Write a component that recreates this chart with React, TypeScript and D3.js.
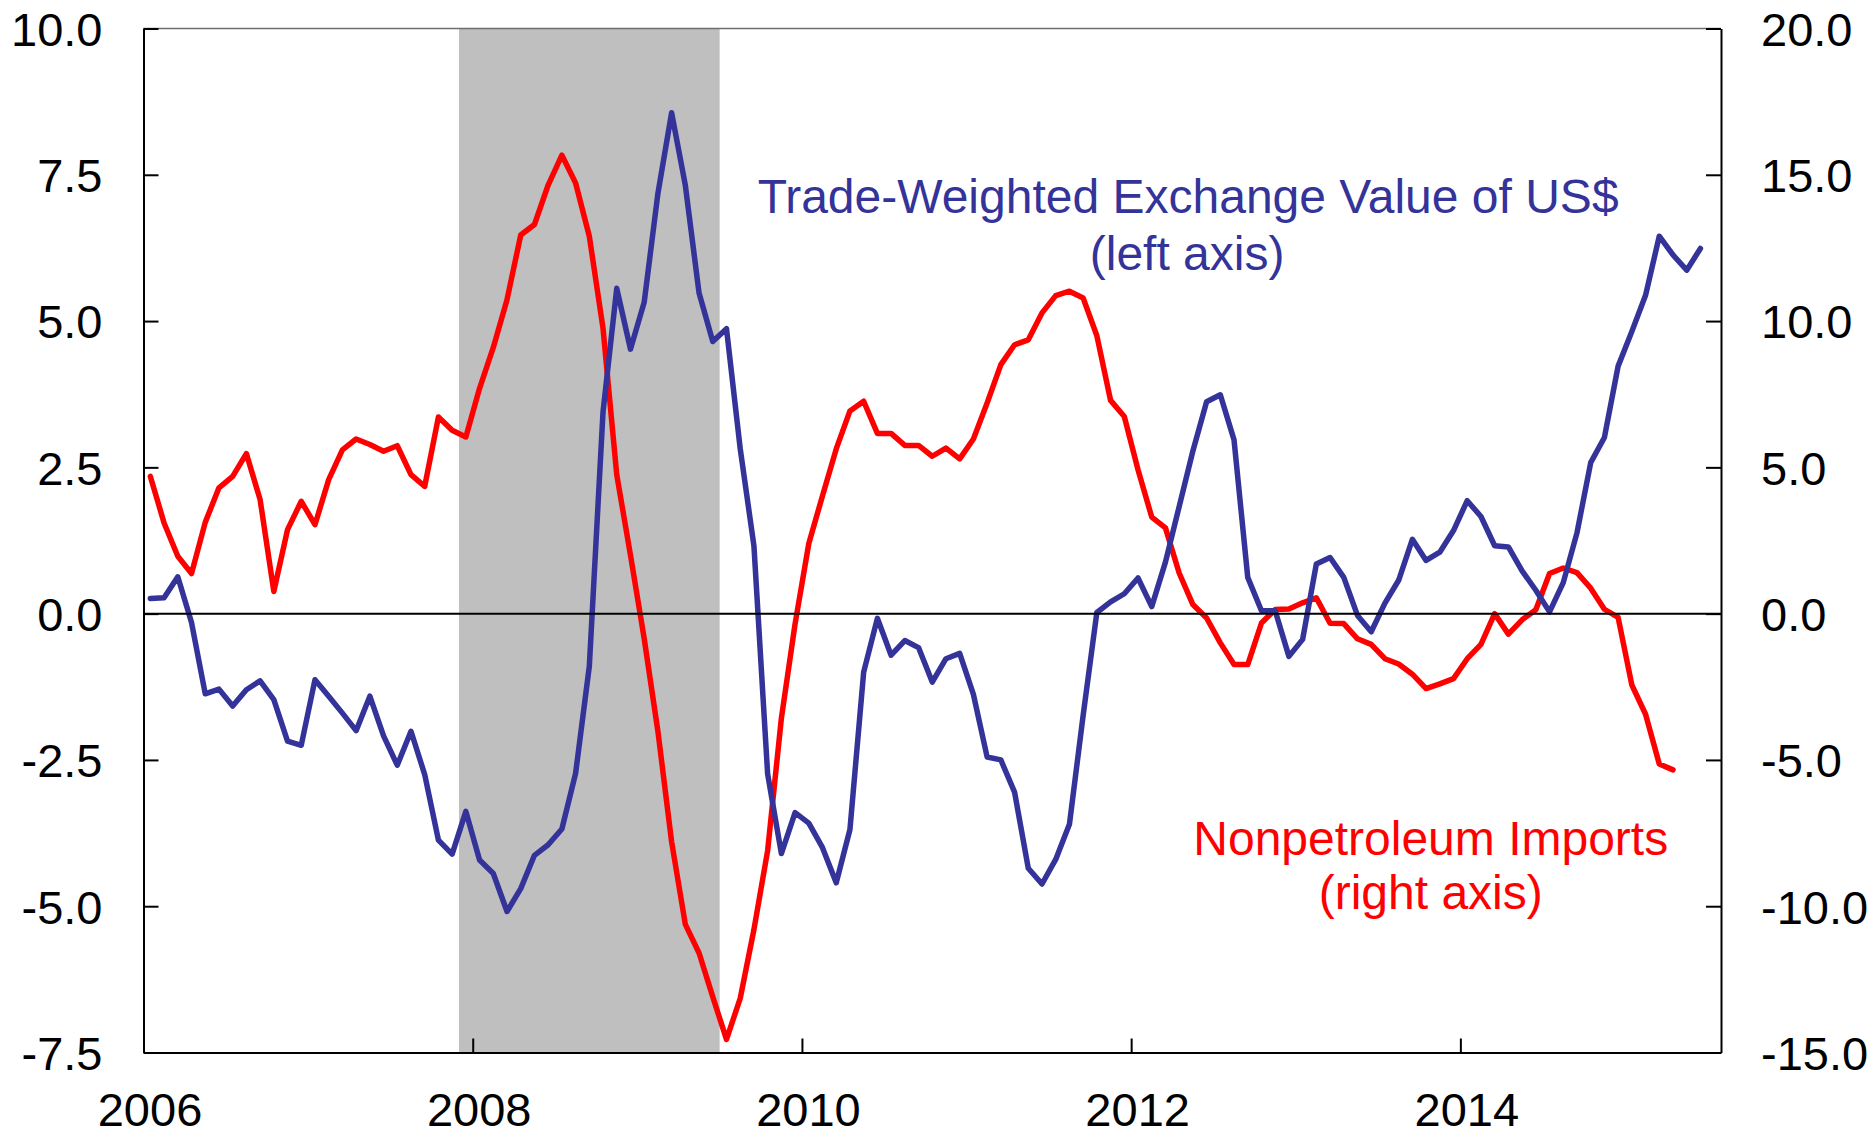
import React, { useEffect, useRef } from "react";
import * as d3 from "d3";

// monthly observations starting Jan 2006
const startYear = 2006;
const yearTicks = [2006, 2008, 2010, 2012, 2014];
const leftTicks = [10, 7.5, 5, 2.5, 0, -2.5, -5, -7.5];
const rightTicks = [20, 15, 10, 5, 0, -5, -10, -15];
const recession = [2007 + 11 / 12, 2009.5];

// Trade-Weighted Exchange Value of US$ (left axis), Jan 2006 - Jun 2015
const dollarValues = [
	0.26, 0.27, 0.63, -0.15, -1.37, -1.29, -1.58, -1.3, -1.15, -1.47, -2.18, -2.25,
	-1.13, -1.41, -1.7, -2.0, -1.41, -2.09, -2.59, -2.01, -2.75, -3.87, -4.11, -3.38,
	-4.21, -4.44, -5.09, -4.7, -4.13, -3.95, -3.68, -2.73, -0.9, 3.45, 5.56, 4.52,
	5.32, 7.18, 8.56, 7.32, 5.48, 4.65, 4.87, 2.82, 1.16, -2.74, -4.1, -3.4,
	-3.58, -4.0, -4.6, -3.69, -1.0, -0.08, -0.71, -0.46, -0.58, -1.17, -0.77, -0.68,
	-1.38, -2.45, -2.5, -3.05, -4.35, -4.62, -4.2, -3.6, -1.74, 0.02, 0.2, 0.34,
	0.61, 0.12, 0.88, 1.83, 2.78, 3.62, 3.74, 2.97, 0.62, 0.05, 0.05, -0.73,
	-0.44, 0.85, 0.96, 0.62, -0.03, -0.31, 0.18, 0.57, 1.27, 0.91, 1.05, 1.42,
	1.93, 1.66, 1.16, 1.14, 0.73, 0.4, 0.03, 0.53, 1.38, 2.58, 3.01, 4.23,
	4.82, 5.44, 6.45, 6.13, 5.87, 6.24,
];

// Nonpetroleum Imports (right axis), Jan 2006 - Apr 2015
const importValues = [
	4.69, 3.1, 1.96, 1.37, 3.12, 4.3, 4.69, 5.47, 3.9, 0.76, 2.87, 3.84,
	3.04, 4.58, 5.6, 5.97, 5.78, 5.55, 5.74, 4.75, 4.35, 6.72, 6.27, 6.04,
	7.7, 9.1, 10.73, 12.94, 13.3, 14.65, 15.67, 14.72, 12.9, 9.75, 4.75, 2.0,
	-0.85, -4.02, -7.8, -10.62, -11.6, -13.1, -14.55, -13.15, -10.8, -8.1, -3.58, -0.35,
	2.4, 4.03, 5.63, 6.93, 7.26, 6.16, 6.16, 5.75, 5.75, 5.38, 5.66, 5.29,
	5.97, 7.2, 8.51, 9.19, 9.36, 10.28, 10.87, 11.02, 10.79, 9.5, 7.29, 6.74,
	4.92, 3.3, 2.93, 1.39, 0.31, -0.15, -1.0, -1.74, -1.74, -0.32, 0.14, 0.16,
	0.37, 0.54, -0.33, -0.34, -0.86, -1.05, -1.54, -1.72, -2.07, -2.56, -2.4, -2.22,
	-1.54, -1.05, 0.0, -0.7, -0.21, 0.13, 1.37, 1.56, 1.4, 0.87, 0.15, -0.13,
	-2.44, -3.44, -5.14, -5.34,
];

const font = "'Liberation Sans', Arial, sans-serif";
const blue = "#333399";
const red = "#ff0000";

function ExchangeImportsChart() {
	const ref = useRef<SVGSVGElement>(null);

	useEffect(() => {
		const left = 143.5;
		const right = 1721;
		const top = 28.5;
		const bottom = 1052.5;

		const x = d3
			.scaleLinear()
			.domain([startYear, 2015 + 7 / 12])
			.range([left, right]);
		const yLeft = d3.scaleLinear().domain([-7.5, 10]).range([bottom, top]);
		const yRight = d3.scaleLinear().domain([-15, 20]).range([bottom, top]);
		const monthX = (i: number) => x(startYear + (i + 0.5) / 12);

		const svg = d3.select(ref.current);
		svg.selectAll("*").remove();

		// recession shading
		svg
			.append("rect")
			.attr("x", x(recession[0]))
			.attr("y", top)
			.attr("width", x(recession[1]) - x(recession[0]))
			.attr("height", bottom - top)
			.attr("fill", "#bfbfbf");

		// top frame line
		svg
			.append("line")
			.attr("x1", left)
			.attr("x2", right)
			.attr("y1", top)
			.attr("y2", top)
			.attr("stroke", "#6e6e6e")
			.attr("stroke-width", 1.5);

		const dollarLine = d3
			.line<number>()
			.x((d, i) => monthX(i))
			.y((d) => yLeft(d));
		const importLine = d3
			.line<number>()
			.x((d, i) => monthX(i))
			.y((d) => yRight(d));

		svg
			.append("path")
			.datum(importValues)
			.attr("d", importLine)
			.attr("fill", "none")
			.attr("stroke", red)
			.attr("stroke-width", 5.5)
			.attr("stroke-linejoin", "round")
			.attr("stroke-linecap", "round");

		svg
			.append("path")
			.datum(dollarValues)
			.attr("d", dollarLine)
			.attr("fill", "none")
			.attr("stroke", blue)
			.attr("stroke-width", 5.5)
			.attr("stroke-linejoin", "round")
			.attr("stroke-linecap", "round");

		// zero line
		svg
			.append("line")
			.attr("x1", left)
			.attr("x2", right)
			.attr("y1", yLeft(0))
			.attr("y2", yLeft(0))
			.attr("stroke", "black")
			.attr("stroke-width", 2);

		const styleAxis = (g: any) => {
			g.attr("font-size", 47).attr("font-family", font);
			g.selectAll("path").attr("stroke", "black").attr("stroke-width", 2);
			g.selectAll("line").attr("stroke", "black").attr("stroke-width", 2);
			g.selectAll("text").attr("fill", "black");
		};

		svg
			.append("g")
			.attr("transform", `translate(${left},0)`)
			.call(
				d3
					.axisLeft(yLeft)
					.tickValues(leftTicks)
					.tickSize(-15)
					.tickSizeOuter(0)
					.tickPadding(41)
					.tickFormat((d: any) => d.toFixed(1))
			)
			.call(styleAxis)
			.selectAll("text")
			.attr("dy", "0.36em");

		svg
			.append("g")
			.attr("transform", `translate(${right},0)`)
			.call(
				d3
					.axisRight(yRight)
					.tickValues(rightTicks)
					.tickSize(-15)
					.tickSizeOuter(0)
					.tickPadding(40)
					.tickFormat((d: any) => d.toFixed(1))
			)
			.call(styleAxis)
			.selectAll("text")
			.attr("dy", "0.36em");

		svg
			.append("g")
			.attr("transform", `translate(0,${bottom})`)
			.call(
				d3
					.axisBottom(x)
					.tickValues(yearTicks)
					.tickSize(-14)
					.tickSizeOuter(0)
					.tickPadding(40)
					.tickFormat((d: any) => String(d))
			)
			.call(styleAxis)
			.selectAll("text")
			.attr("dx", 6);

		// series labels
		const labels = [
			{ text: "Trade-Weighted Exchange Value of US$", year: 2012.346, y: 213, fill: blue },
			{ text: "(left axis)", year: 2012.34, y: 270, fill: blue },
			{ text: "Nonpetroleum Imports", year: 2013.82, y: 855, fill: red },
			{ text: "(right axis)", year: 2013.82, y: 909, fill: red },
		];
		svg
			.selectAll(".seriesLabel")
			.data(labels)
			.join("text")
			.attr("class", "seriesLabel")
			.attr("x", (d) => x(d.year))
			.attr("y", (d) => d.y)
			.attr("text-anchor", "middle")
			.attr("font-family", font)
			.attr("font-size", 48)
			.attr("fill", (d) => d.fill)
			.text((d) => d.text);
	}, []);

	return (
		<svg
			ref={ref}
			width={1874}
			height={1138}
			style={{ position: "absolute", left: 0, top: 0, background: "white" }}
		/>
	);
}

export default function App() {
	return <ExchangeImportsChart />;
}
